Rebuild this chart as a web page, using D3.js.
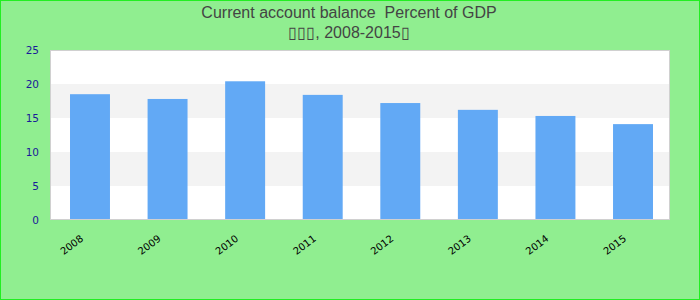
<!DOCTYPE html>
<html>
<head>
<meta charset="utf-8">
<script src="https://cdn.jsdelivr.net/npm/d3@7"></script>
<style>
  body { margin: 0; }
  svg { display: block; }
</style>
</head>
<body>
<div id="vis"><svg></svg></div>
<script>
// data
var years = ["2008", "2009", "2010", "2011", "2012", "2013", "2014", "2015"];
var balance = [18.5, 17.8, 20.4, 18.4, 17.2, 16.2, 15.3, 14.1];
var yTicks = [0, 5, 10, 15, 20, 25];
var titleLines = ["Current account balance  Percent of GDP", "\u25AF\u25AF\u25AF, 2008-2015\u25AF"];

var width = 700, height = 300;
var plot = {left: 50, top: 50, right: 670, bottom: 220};

var svg = d3.select("#vis").select("svg")
    .attr("width", width)
    .attr("height", height);

// page background + green frame
svg.append("rect")
    .attr("x", 0.5).attr("y", 0.5)
    .attr("width", width - 1).attr("height", height - 1)
    .attr("fill", "#90ee90")
    .attr("stroke", "#22ee22")
    .attr("stroke-width", 1);

// title (keep the double space)
svg.append("g").selectAll("text")
    .data(titleLines)
    .join("text")
    .attr("x", 349)
    .attr("y", (d, i) => 18 + i * 20)
    .attr("text-anchor", "middle")
    .attr("font-family", "Liberation Sans, Arial, sans-serif")
    .attr("font-size", 16)
    .attr("fill", "#444")
    .style("white-space", "pre")
    .text(d => d);

var x = d3.scaleBand()
    .domain(years)
    .range([plot.left + 1.2, plot.right + 1.8])
    .paddingInner(0.485)
    .paddingOuter(0.2425);

var y = d3.scaleLinear()
    .domain([0, 25])
    .range([plot.bottom, plot.top]);

// plot area
svg.append("rect")
    .attr("x", plot.left).attr("y", plot.top)
    .attr("width", plot.right - plot.left)
    .attr("height", plot.bottom - plot.top)
    .attr("fill", "#fff");

// alternating bands
var bands = d3.pairs(yTicks).filter((d, i) => i % 2 == 1);
svg.append("g").selectAll("rect")
    .data(bands)
    .join("rect")
    .attr("x", plot.left)
    .attr("y", d => y(d[1]))
    .attr("width", plot.right - plot.left)
    .attr("height", d => y(d[0]) - y(d[1]))
    .attr("fill", "#f3f3f3");

// bars
svg.append("g").selectAll("rect")
    .data(years)
    .join("rect")
    .attr("x", d => x(d))
    .attr("y", (d, i) => y(balance[i]))
    .attr("width", x.bandwidth())
    .attr("height", (d, i) => y(0) - y(balance[i]))
    .attr("fill", "#62a9f5");

svg.append("rect")
    .attr("x", plot.left + 0.5).attr("y", plot.top + 0.5)
    .attr("width", plot.right - plot.left - 1)
    .attr("height", plot.bottom - plot.top - 1)
    .attr("fill", "none")
    .attr("stroke", "#d0d0d0");

// y axis
var yAxis = svg.append("g")
    .attr("transform", "translate(" + (plot.left - 11) + ",0)")
    .call(d3.axisLeft(y).tickValues(yTicks).tickSize(0).tickPadding(0));
yAxis.select(".domain").remove();
yAxis.selectAll("text")
    .attr("font-family", "DejaVu Sans, sans-serif")
    .attr("font-size", 10.5)
    .attr("fill", "#1a1a99");

// x axis labels, rotated
var xAxis = svg.append("g")
    .attr("transform", "translate(0," + (plot.bottom + 20) + ")")
    .call(d3.axisBottom(x).tickSize(0).tickPadding(0));
xAxis.select(".domain").remove();
xAxis.selectAll("text")
    .attr("font-family", "DejaVu Sans, sans-serif")
    .attr("font-size", 10)
    .attr("fill", "#000")
    .attr("text-anchor", "end")
    .attr("dy", 0)
    .attr("transform", "translate(-6,0) rotate(-37)");
</script>
</body>
</html>
